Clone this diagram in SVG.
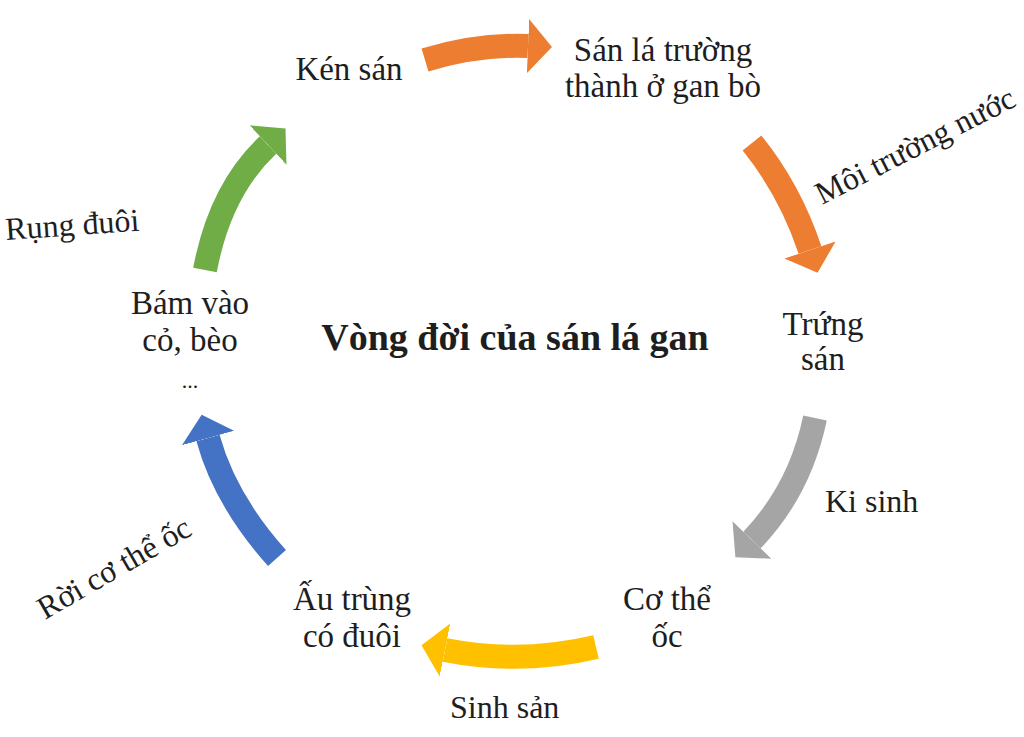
<svg xmlns="http://www.w3.org/2000/svg" width="1024" height="737" viewBox="0 0 1024 737">
<style>
  text { font-family: "Liberation Serif", "Times New Roman", serif; fill: #1e1e1e; }
  .node { font-size: 33px; text-anchor: middle; }
  .lbl { font-size: 32px; }
  .title { font-size: 38px; font-weight: bold; text-anchor: middle; }
  .shaft { fill: none; stroke-width: 24; stroke-linecap: butt; }
</style>
<defs>
  <marker id="hOrange" markerUnits="userSpaceOnUse" markerWidth="30" markerHeight="60" refX="0" refY="27" orient="auto" viewBox="0 0 30 54"><path d="M0,0 L24,27 L0,54 Z" fill="#ED7D31"/></marker>
  <marker id="hGray" markerUnits="userSpaceOnUse" markerWidth="30" markerHeight="60" refX="0" refY="27" orient="auto" viewBox="0 0 30 54"><path d="M0,0 L24,27 L0,54 Z" fill="#A5A5A5"/></marker>
  <marker id="hYellow" markerUnits="userSpaceOnUse" markerWidth="30" markerHeight="60" refX="0" refY="27" orient="auto" viewBox="0 0 30 54"><path d="M0,0 L24,27 L0,54 Z" fill="#FFC000"/></marker>
  <marker id="hBlue" markerUnits="userSpaceOnUse" markerWidth="30" markerHeight="60" refX="0" refY="27" orient="auto" viewBox="0 0 30 54"><path d="M0,0 L24,27 L0,54 Z" fill="#4472C4"/></marker>
  <marker id="hGreen" markerUnits="userSpaceOnUse" markerWidth="30" markerHeight="60" refX="0" refY="27" orient="auto" viewBox="0 0 30 54"><path d="M0,0 L24,27 L0,54 Z" fill="#70AD47"/></marker>
</defs>
<rect width="1024" height="737" fill="#fff"/>

<g id="connectors">
  <path class="shaft" stroke="#ED7D31" d="M425,60 Q478,44 528,46" marker-end="url(#hOrange)"/>
  <path class="shaft" stroke="#ED7D31" d="M752,143 Q790,190 810,250" marker-end="url(#hOrange)"/>
  <path class="shaft" stroke="#A5A5A5" d="M815,418 Q800,490 752,540" marker-end="url(#hGray)"/>
  <path class="shaft" stroke="#FFC000" d="M596,647 Q520,665 445,650" marker-end="url(#hYellow)"/>
  <path class="shaft" stroke="#4472C4" d="M277,558 Q225,500 208,438" marker-end="url(#hBlue)"/>
  <path class="shaft" stroke="#70AD47" d="M205,270 Q220,190 268,145" marker-end="url(#hGreen)"/>
  <text class="lbl" transform="translate(822,205) rotate(-27)">Môi trường nước</text>
  <text class="lbl" x="825" y="512">Ki sinh</text>
  <text class="lbl" x="450" y="718">Sinh sản</text>
  <text class="lbl" transform="translate(45,620) rotate(-30)">Rời cơ thể ốc</text>
  <text class="lbl" transform="translate(6,240) rotate(-4)">Rụng đuôi</text>
</g>

<g id="node-ken-san"><text class="node" x="349" y="80">Kén sán</text></g>
<g id="node-san-la-truong-thanh">
  <text class="node" x="663" y="61">Sán lá trường</text>
  <text class="node" x="663" y="97">thành ở gan bò</text>
</g>
<g id="node-trung-san">
  <text class="node" x="823" y="335">Trứng</text>
  <text class="node" x="823" y="370">sán</text>
</g>
<g id="node-co-the-oc">
  <text class="node" x="667" y="610">Cơ thể</text>
  <text class="node" x="667" y="647">ốc</text>
</g>
<g id="node-au-trung">
  <text class="node" x="352" y="610">Ấu trùng</text>
  <text class="node" x="352" y="647">có đuôi</text>
</g>
<g id="node-bam-vao">
  <text class="node" x="190" y="314">Bám vào</text>
  <text class="node" x="190" y="351">cỏ, bèo</text>
  <text class="node" x="190" y="388" style="font-size:22px">...</text>
</g>
<g id="title"><text class="title" x="515" y="350">Vòng đời của sán lá gan</text></g>
</svg>
